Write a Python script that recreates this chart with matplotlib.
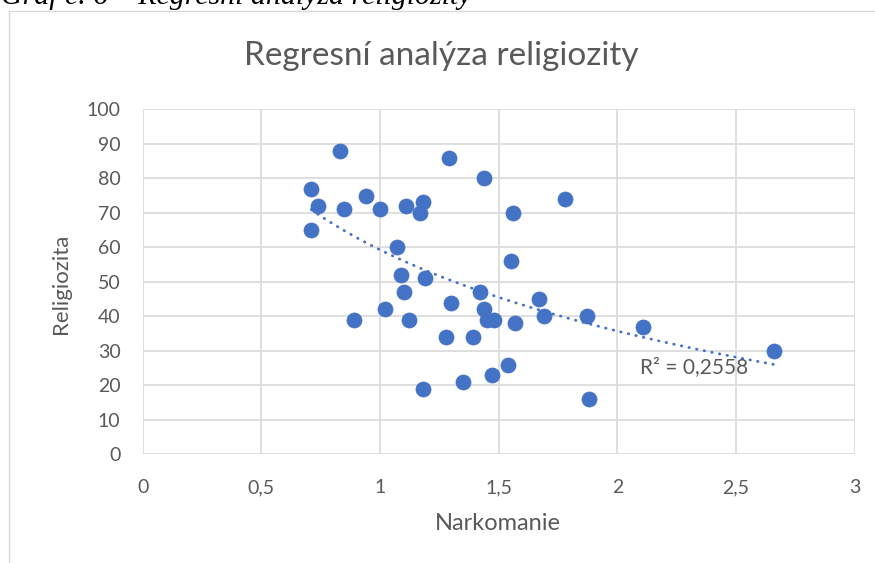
import numpy as np
import matplotlib
matplotlib.use("Agg")
import matplotlib.pyplot as plt
from matplotlib.lines import Line2D

# ---- data ----
narkomanie = [0.71, 0.74, 0.71, 0.83, 0.85, 0.94, 1.00, 1.11, 1.18, 1.17,
              1.29, 1.44, 1.56, 1.78, 1.55, 1.07, 1.09, 1.19, 1.10, 0.89,
              1.02, 1.12, 1.30, 1.28, 1.39, 1.18, 1.35, 1.42, 1.44, 1.45,
              1.48, 1.57, 1.67, 1.69, 1.87, 2.11, 2.66, 1.54, 1.47, 1.88]
religiozita = [77, 72, 65, 88, 71, 75, 71, 72, 73, 70,
               86, 80, 70, 74, 56, 60, 52, 51, 47, 39,
               42, 39, 44, 34, 34, 19, 21, 47, 42, 39,
               39, 38, 45, 40, 40, 37, 30, 26, 23, 16]
x_ticks = [0, 0.5, 1, 1.5, 2, 2.5, 3]
x_tick_labels = ["0", "0,5", "1", "1,5", "2", "2,5", "3"]
y_ticks = list(range(0, 101, 10))
title = "Regresní analýza religiozity"
caption = "Graf č. 6 – Regresní analýza religiozity"
r2_label = "R² = 0,2558"

W, H = 875, 563
fig = plt.figure(figsize=(W / 100, H / 100), dpi=100)
FONT = "Lato"
GRAY = "#595959"
BLUE = "#4472C4"
GRID = "#D9D9D9"

def fx(px):
    return px / W

def fy(py):
    return 1 - py / H

# chart border (partial)
fig.add_artist(Line2D([fx(9), fx(9)], [fy(11), fy(563)], color="#D9D9D9", lw=1.0))
fig.add_artist(Line2D([fx(9), fx(875)], [fy(11), fy(11)], color="#D9D9D9", lw=1.0))

# caption (clipped at top, as in the source page)
fig.text(fx(1), fy(4.5), caption, family="Liberation Serif", style="italic",
         fontsize=21.5, color="black", ha="left", va="baseline")

ax = fig.add_axes([fx(142.7), fy(454.3), (854.7 - 142.7) / W, (454.3 - 109.3) / H])
ax.set_xlim(0, 3)
ax.set_ylim(0, 100)
for s in ax.spines.values():
    s.set_visible(False)
ax.set_xticks(x_ticks)
ax.set_xticklabels(x_tick_labels)
ax.set_yticks(y_ticks)
ax.grid(True, color=GRID, lw=1.2)
ax.set_axisbelow(True)
ax.tick_params(length=0, labelsize=14, labelcolor=GRAY, pad=0)
ax.tick_params(axis="x", pad=18)
ax.tick_params(axis="y", pad=16)
for lab in ax.get_xticklabels() + ax.get_yticklabels():
    lab.set_family(FONT)

ax.scatter(narkomanie, religiozita, s=118, color=BLUE, edgecolors=BLUE,
           linewidths=0.5, zorder=3)

# logarithmic trendline
xa = np.array(narkomanie)
ya = np.array(religiozita)
b, a = np.polyfit(np.log(xa), ya, 1)
xt = np.linspace(xa.min(), xa.max(), 200)
ax.plot(xt, a + b * np.log(xt), color=BLUE, lw=2.0, linestyle=(0, (0.2, 2.6)),
        dash_capstyle="round", zorder=2)

ax.text(2.096, 25.3, r2_label, fontsize=15, family=FONT, color=GRAY,
        ha="left", va="center", zorder=4)

fig.text(fx(441), fy(56), title, family=FONT, fontsize=24, color=GRAY,
         ha="center", va="center")
fig.text(fx(61), fy(284), "Religiozita", family=FONT, fontsize=16, color=GRAY,
         rotation=90, ha="center", va="center")
fig.text(fx(498), fy(523), "Narkomanie", family=FONT, fontsize=17, color=GRAY,
         ha="center", va="center")

fig.savefig("out.png", dpi=100)
